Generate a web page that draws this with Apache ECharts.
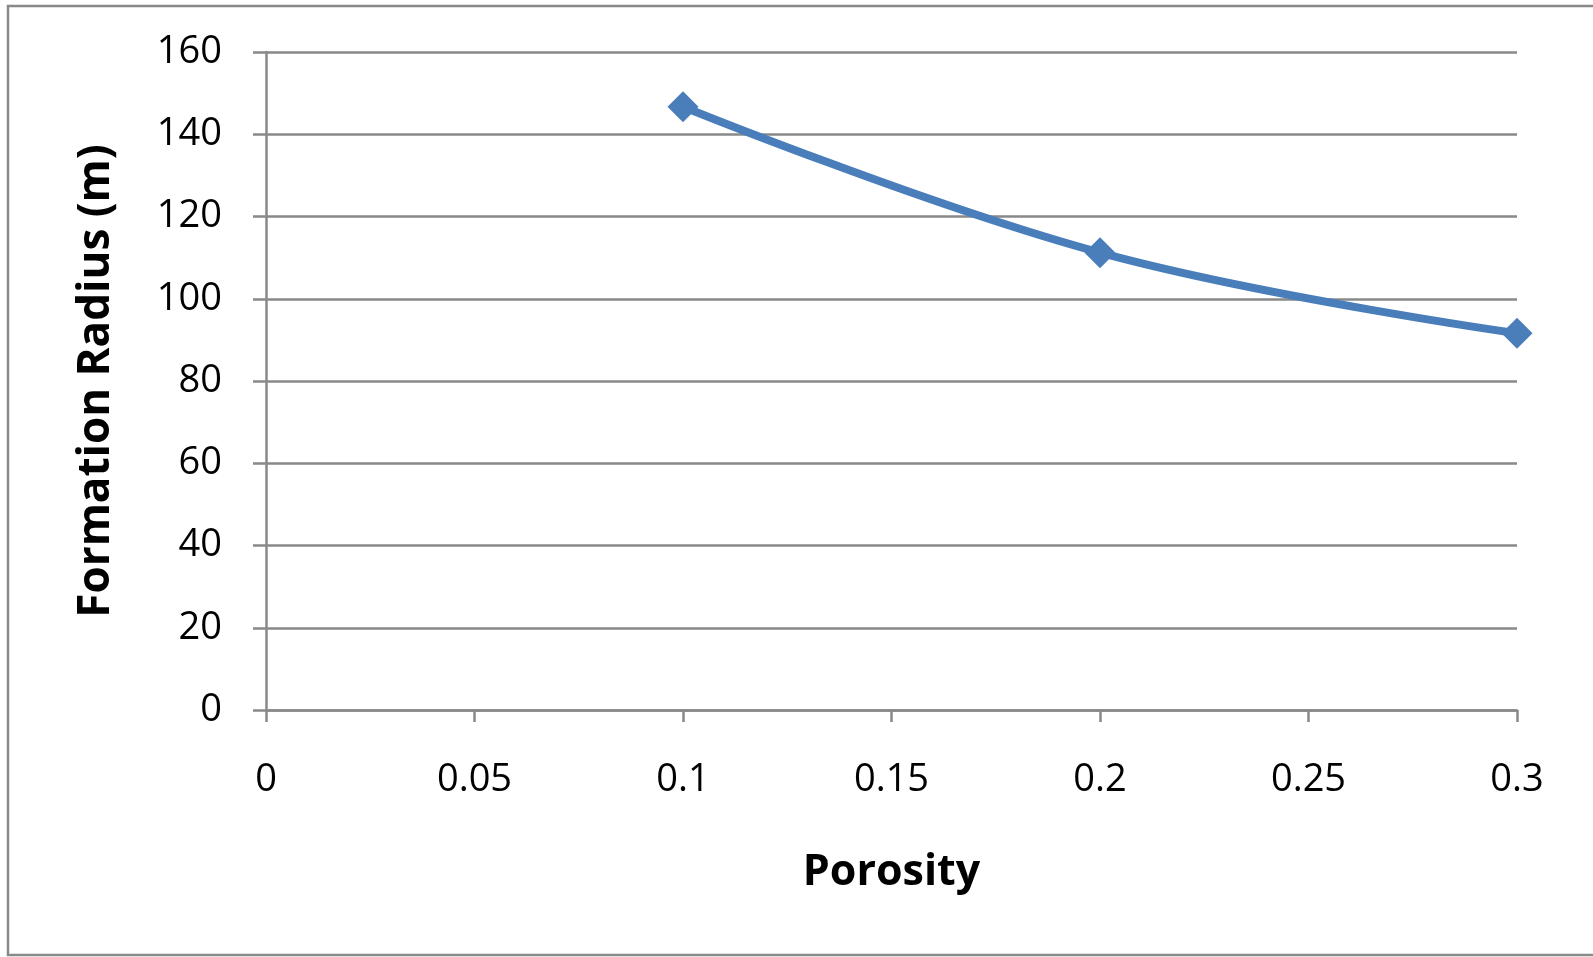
<!DOCTYPE html>
<html>
<head>
<meta charset="utf-8">
<style>
  html, body { margin: 0; padding: 0; background: #ffffff; }
  #chart { width: 1593px; height: 957px; }
</style>
<script src="https://cdn.jsdelivr.net/npm/echarts@6/dist/echarts.min.js"></script>
</head>
<body>
<div id="chart"></div>
<script>
// Formation radius vs porosity
const porosity = [0.1, 0.2, 0.3];
const radius = [146.7, 111.2, 91.6];
const xTitle = 'Porosity';
const yTitle = 'Formation Radius (m)';

const FONT = 'Open Sans';
const GRID_GRAY = '#898989';
const BLUE = '#4a7ebb';

const chart = echarts.init(document.getElementById('chart'), null, { renderer: 'canvas' });

chart.setOption({
  backgroundColor: '#ffffff',
  animation: false,
  graphic: [{
    type: 'rect',
    shape: { x: 8, y: 6, width: 1600, height: 949 },
    style: { fill: null, stroke: GRID_GRAY, lineWidth: 2.5 },
    silent: true
  }],
  grid: { left: 266, right: 76, top: 52, bottom: 247, containLabel: false },
  xAxis: {
    type: 'value',
    min: 0, max: 0.3, interval: 0.05,
    name: xTitle,
    nameLocation: 'middle',
    nameGap: 141,
    nameTextStyle: { fontFamily: FONT, fontSize: 43, fontWeight: 'bold', color: '#000' },
    axisLine: { show: true, onZero: false, lineStyle: { color: GRID_GRAY, width: 2.5 } },
    axisTick: { show: true, inside: false, length: 12, lineStyle: { color: GRID_GRAY, width: 2.5 } },
    axisLabel: { fontFamily: FONT, fontSize: 38, color: '#000', margin: 51 },
    splitLine: { show: false }
  },
  yAxis: {
    type: 'value',
    min: 0, max: 160, interval: 20,
    name: yTitle,
    nameLocation: 'middle',
    nameGap: 148,
    nameRotate: 90,
    nameTextStyle: { fontFamily: FONT, fontSize: 44, fontWeight: 'bold', color: '#000' },
    axisLine: { show: true, lineStyle: { color: GRID_GRAY, width: 2.5 } },
    axisTick: { show: true, inside: false, length: 13, lineStyle: { color: GRID_GRAY, width: 2.5 } },
    axisLabel: { fontFamily: FONT, fontSize: 38, color: '#000', margin: 44 },
    splitLine: { show: true, lineStyle: { color: GRID_GRAY, width: 2.5 } }
  },
  series: [{
    type: 'line',
    data: porosity.map((p, i) => [p, radius[i]]),
    smooth: 0.4,
    symbol: 'diamond',
    symbolSize: 31,
    lineStyle: { color: BLUE, width: 8 },
    itemStyle: { color: BLUE },
    clip: false
  }]
});
</script>
</body>
</html>
